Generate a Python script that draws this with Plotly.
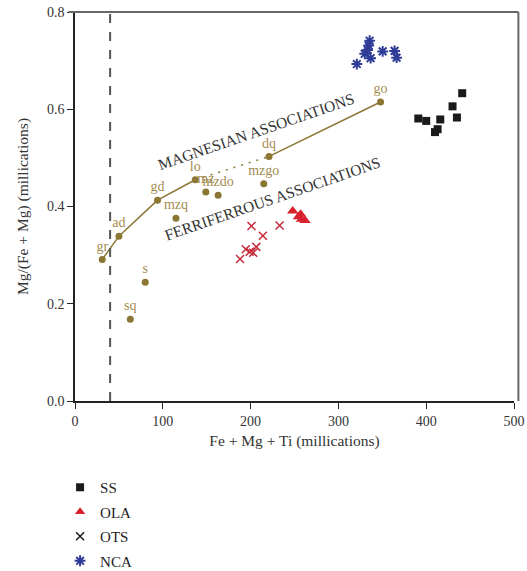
import plotly.graph_objects as go

# ---- data ----
rock_labels = ["gr", "ad", "gd", "lo", "mz", "mzdo", "mzq", "s", "sq", "dq", "mzgo", "go"]
rock_x = [31, 50, 94, 137, 149, 163, 115, 80, 63, 221, 215, 348]
rock_y = [0.291, 0.339, 0.413, 0.455, 0.430, 0.423, 0.376, 0.244, 0.168, 0.503, 0.447, 0.615]

trend_solid_1 = ["gr", "ad", "gd", "lo"]
trend_dotted = ["lo", "dq"]
trend_solid_2 = ["dq", "go"]

ss_x = [391, 400, 416, 413, 410, 430, 435, 441]
ss_y = [0.581, 0.576, 0.579, 0.559, 0.553, 0.606, 0.583, 0.633]

ola_x = [248, 254.5, 257, 258, 262]
ola_y = [0.391, 0.379, 0.384, 0.374, 0.371]

ots_x = [201, 233, 214, 194.5, 199, 203, 206.5, 188]
ots_y = [0.360, 0.361, 0.340, 0.312, 0.307, 0.305, 0.317, 0.292]

nca_x = [335.6, 334.5, 333.3, 330, 336.7, 321, 350.4, 364, 366.3]
nca_y = [0.741, 0.731, 0.722, 0.714, 0.705, 0.693, 0.719, 0.720, 0.706]

boundary_x = 40

BROWN = "#8c7634"
BROWN_TXT = "#a38c50"
FONT = "Liberation Serif"
RED = "#d8212c"
BLUE = "#2f3c97"


def pick(names):
    idx = [rock_labels.index(n) for n in names]
    return [rock_x[i] for i in idx], [rock_y[i] for i in idx]


fig = go.Figure()

for names, dash in [(trend_solid_1, "solid"), (trend_dotted, "2px,6px"), (trend_solid_2, "solid")]:
    xs, ys = pick(names)
    fig.add_trace(go.Scatter(x=xs, y=ys, mode="lines", showlegend=False,
                             line=dict(color=BROWN, width=1.5, dash=dash), hoverinfo="skip"))

fig.add_trace(go.Scatter(x=rock_x, y=rock_y, mode="markers+text", text=rock_labels,
                         textposition="top center", showlegend=False,
                         textfont=dict(family=FONT, size=14, color=BROWN_TXT),
                         marker=dict(color=BROWN, size=7)))

fig.add_trace(go.Scatter(x=ss_x, y=ss_y, mode="markers", showlegend=False,
                         marker=dict(symbol="square", size=8, color="#1a1a1a")))
fig.add_trace(go.Scatter(x=ola_x, y=ola_y, mode="markers", showlegend=False,
                         marker=dict(symbol="triangle-up", size=10, color=RED)))
fig.add_trace(go.Scatter(x=ots_x, y=ots_y, mode="markers", showlegend=False,
                         marker=dict(symbol="x-thin-open", size=8, color="#c62a3a",
                                     line=dict(width=1.5))))
fig.add_trace(go.Scatter(x=nca_x, y=nca_y, mode="markers", showlegend=False,
                         marker=dict(symbol="asterisk-open", size=9, color=BLUE,
                                     line=dict(width=2))))

# legend-only entries
fig.add_trace(go.Scatter(x=[None], y=[None], mode="markers", name="SS", legendgroup="a",
                         marker=dict(symbol="square", size=8, color="#1a1a1a")))
fig.add_trace(go.Scatter(x=[None], y=[None], mode="markers", name="OLA", legendgroup="b",
                         marker=dict(symbol="triangle-up", size=9, color=RED)))
fig.add_trace(go.Scatter(x=[None], y=[None], mode="markers", name="OTS", legendgroup="c",
                         marker=dict(symbol="x-thin-open", size=8, color="#1a1a1a",
                                     line=dict(width=1.5))))
fig.add_trace(go.Scatter(x=[None], y=[None], mode="markers", name="NCA", legendgroup="d",
                         marker=dict(symbol="asterisk-open", size=9, color=BLUE,
                                     line=dict(width=2))))

# dashed boundary
fig.add_shape(type="line", xref="x", yref="paper", x0=boundary_x, x1=boundary_x, y0=0, y1=1,
              line=dict(color="#555555", width=2, dash="dash"))
# top/right frame
fig.add_shape(type="line", xref="paper", yref="paper", x0=-0.015, x1=1.01, y0=1, y1=1,
              line=dict(color="#666666", width=2))
fig.add_shape(type="line", xref="paper", yref="paper", x0=1.01, x1=1.01, y0=0, y1=1,
              line=dict(color="#666666", width=2))

fig.add_annotation(x=206, y=0.554, text="MAGNESIAN ASSOCIATIONS", showarrow=False, textangle=-19,
                   font=dict(family=FONT, size=15.5, color="#333333"))
fig.add_annotation(x=225, y=0.416, text="FERRIFERROUS ASSOCIATIONS", showarrow=False, textangle=-19,
                   font=dict(family=FONT, size=15.5, color="#333333"))

fig.update_layout(
    width=527, height=600,
    margin=dict(l=75, r=13, t=12, b=199),
    plot_bgcolor="white", paper_bgcolor="white",
    font=dict(family=FONT, size=14, color="#333333"),
    xaxis=dict(range=[0, 500], dtick=100, showline=True, linecolor="#222222", linewidth=1.5,
               ticks="outside", ticklen=6, tickcolor="#222222", showgrid=False, zeroline=False,
               automargin=False, ticklabeloverflow="allow",
               title=dict(text="Fe + Mg + Ti (millications)", font=dict(size=15.5), standoff=8)),
    yaxis=dict(range=[0, 0.8], dtick=0.2, tickformat=".1f", showline=True, linecolor="#222222",
               linewidth=1.5, ticks="outside", ticklen=6, tickcolor="#222222", showgrid=False,
               zeroline=False, automargin=False, ticklabeloverflow="allow",
               title=dict(text="Mg/(Fe + Mg) (millications)", font=dict(size=15.5), standoff=15)),
    legend=dict(x=-0.034, y=-0.18, xanchor="left", yanchor="top", traceorder="grouped",
                tracegroupgap=2, font=dict(family=FONT, size=15, color="#222222")),
)

fig.write_html("out.html", config={"displayModeBar": False},
               post_script="document.body.style.margin='0px';")
